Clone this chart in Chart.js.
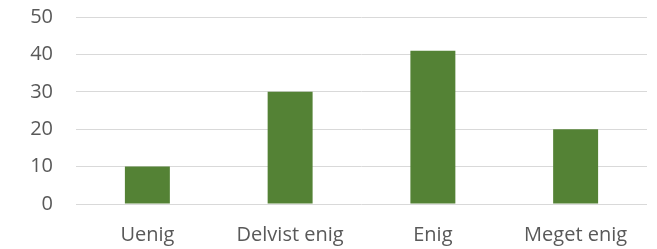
<!DOCTYPE html>
<html><head><meta charset="utf-8">
<script src="https://cdn.jsdelivr.net/npm/chart.js@4"></script>
<style>html,body{margin:0;padding:0;background:#fff;}canvas{display:block;}</style>
</head><body>
<canvas id="c" width="657" height="249"></canvas>
<script>
const categories = ["Uenig", "Delvist enig", "Enig", "Meget enig"];
const values = [10, 30, 41, 20];
const yTicks = [0, 10, 20, 30, 40, 50];

const font = {family: "'Open Sans', sans-serif", size: 20};
new Chart(document.getElementById('c'), {
  type: 'bar',
  data: {labels: categories, datasets: [{data: values, backgroundColor: '#548235', barPercentage: 0.315, categoryPercentage: 1}]},
  options: {
    responsive: false, animation: false,
    layout: {padding: {top: 17, right: 10, left: 0, bottom: 0}},
    plugins: {legend: {display: false}, tooltip: {enabled: false}},
    scales: {
      x: {
        grid: {display: false, drawTicks: false},
        border: {display: false},
        ticks: {color: '#595959', font: font, padding: 19, maxRotation: 0, autoSkip: false},
        afterFit: s => { s.height = 45; s.paddingLeft = 0; s.paddingRight = 0; }
      },
      y: {
        min: 0, max: 50,
        afterBuildTicks: s => { s.ticks = yTicks.map(v => ({value: v})); },
        grid: {color: '#d9d9d9', lineWidth: 1, drawTicks: false},
        border: {display: false},
        ticks: {color: '#595959', font: font, padding: 23},
        afterFit: s => { s.width = 76; s.paddingTop = 0; s.paddingBottom = 0; }
      }
    }
  }
});
</script>
</body></html>
